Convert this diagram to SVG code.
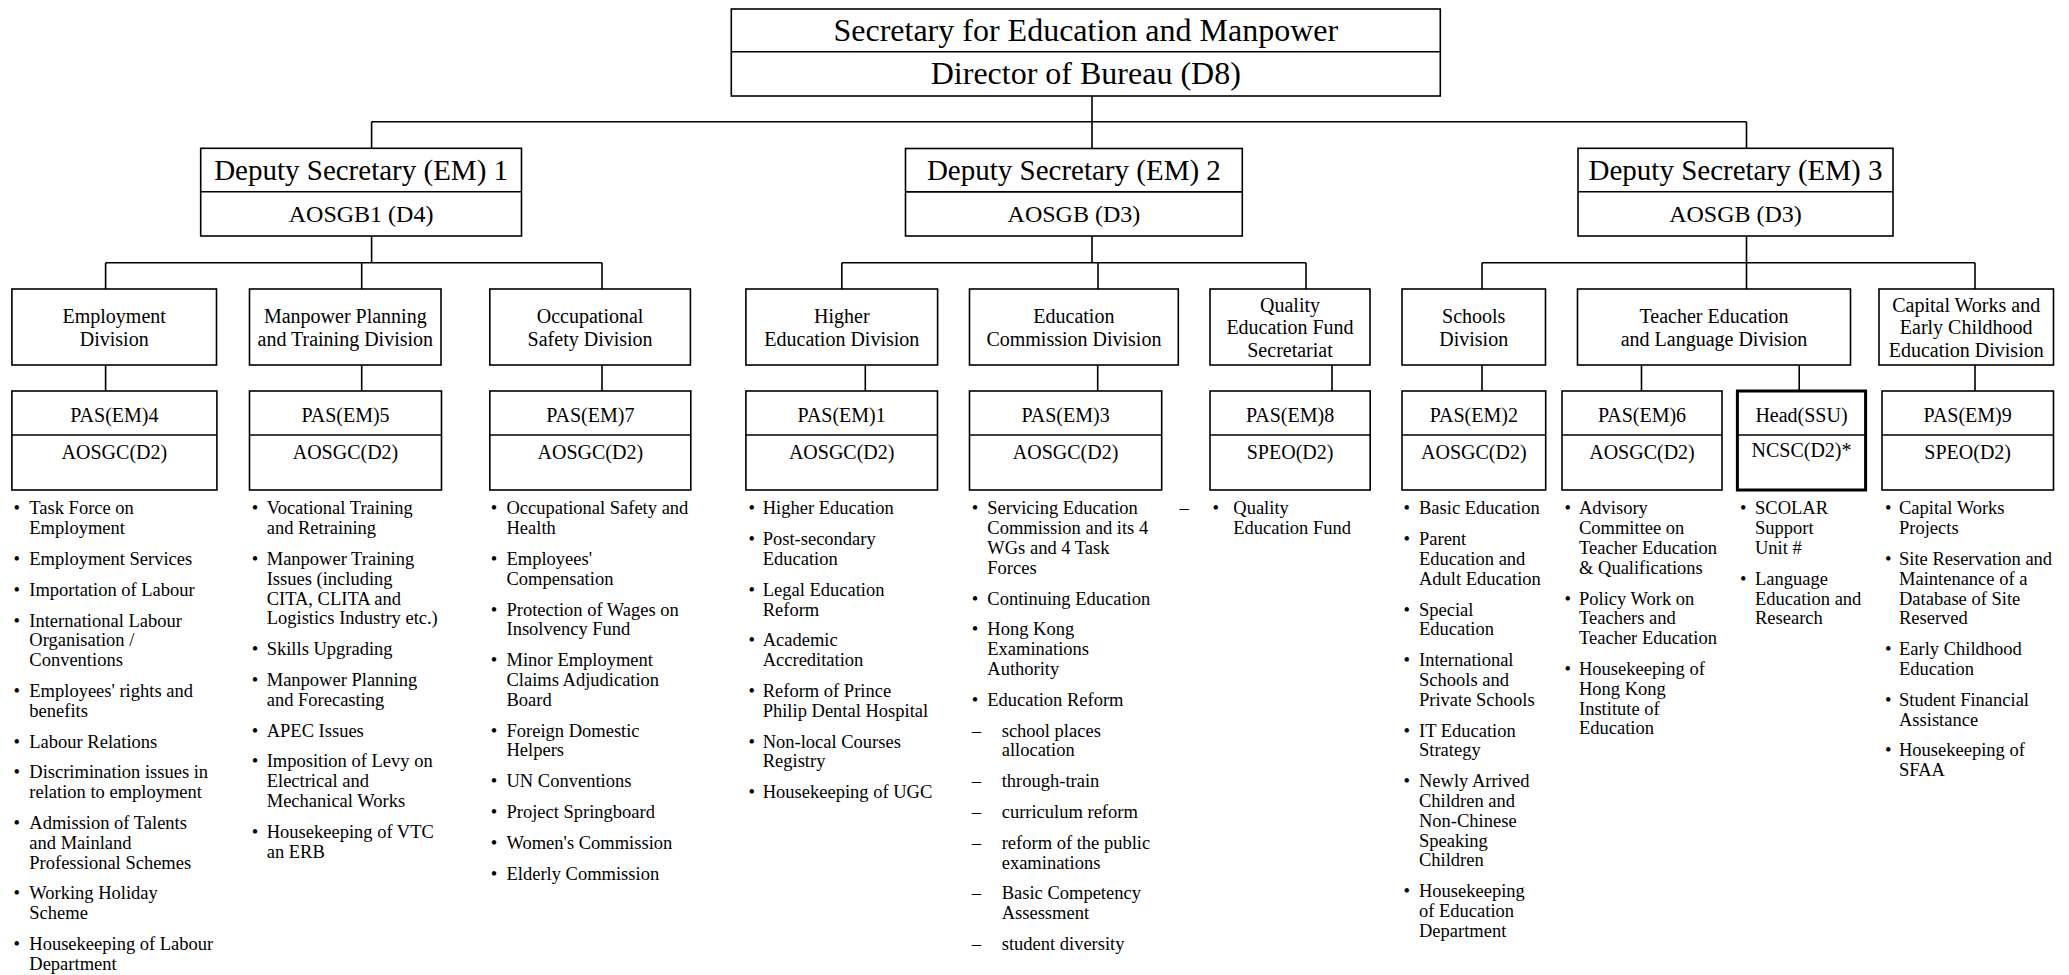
<svg xmlns="http://www.w3.org/2000/svg" width="2069" height="975" viewBox="0 0 2069 975">
<style>
.bx{fill:#fff;stroke:#000;stroke-width:1.6}
.tk{stroke-width:3}
.ln{fill:none;stroke:#000;stroke-width:1.6}
text{font-family:"Liberation Serif","Times New Roman",serif;fill:#000}
.c{text-anchor:middle}
.f32{font-size:32px}
.f29{font-size:29px}
.f24{font-size:24px}
.f20{font-size:20px}
.f18{font-size:18.5px}
.b{font-size:18.5px;text-anchor:middle}
</style>
<rect width="2069" height="975" fill="#fff"/>

<g id="connectors" class="ln">
<path d="M1092 96V121.7M371.6 121.7H1746.5M371.6 121.7V148.3M1092 121.7V148.5M1746.5 121.7V148.3"/>
<path d="M371.6 236V262.7M105.6 262.7H602M105.6 262.7V289M361.7 262.7V289M602 262.7V289"/>
<path d="M1092 236V262.7M841.8 262.7H1306M841.8 262.7V289M1098 262.7V289M1306 262.7V289"/>
<path d="M1746.5 236V262.7M1482 262.7H1975M1482 262.7V289M1746.5 262.7V289M1975 262.7V289"/>
<path d="M105.6 365V391M361.7 365V391M602 365V391M865.3 365V391M1097.7 365V391M1332 365V391M1482 365V391M1641.5 365V391M1799.2 365V391M1975 365V391"/>
</g>

<g id="secretary">
<rect class="bx" x="731.3" y="9" width="709" height="87"/>
<line class="ln" x1="731.3" y1="51.7" x2="1440.3" y2="51.7"/>
<text class="c f32" x="1085.8" y="40.5">Secretary for Education and Manpower</text>
<text class="c f32" x="1085.8" y="84">Director of Bureau (D8)</text>
</g>

<g id="ds1">
<rect class="bx" x="200.7" y="148.3" width="320.8" height="87.7"/>
<line class="ln" x1="200.7" y1="191.7" x2="521.5" y2="191.7"/>
<text class="c f29" x="361.1" y="180">Deputy Secretary (EM) 1</text>
<text class="c f24" x="361.1" y="221.7">AOSGB1 (D4)</text>
</g>
<g id="ds2">
<rect class="bx" x="905.5" y="148.5" width="336.8" height="87.5"/>
<line class="ln" x1="905.5" y1="191.9" x2="1242.3" y2="191.9"/>
<text class="c f29" x="1073.9" y="180">Deputy Secretary (EM) 2</text>
<text class="c f24" x="1073.9" y="221.7">AOSGB (D3)</text>
</g>
<g id="ds3">
<rect class="bx" x="1578" y="148.3" width="315" height="87.7"/>
<line class="ln" x1="1578" y1="191.7" x2="1893" y2="191.7"/>
<text class="c f29" x="1735.5" y="180">Deputy Secretary (EM) 3</text>
<text class="c f24" x="1735.5" y="221.7">AOSGB (D3)</text>
</g>

<g id="employment">
<rect class="bx" x="11.9" y="289" width="204.6" height="76"/>
<text class="c f20" x="114.2" y="323">Employment</text>
<text class="c f20" x="114.2" y="346">Division</text>
<rect class="bx" x="11.9" y="391" width="205" height="99"/>
<line class="ln" x1="11.9" y1="435" x2="216.9" y2="435"/>
<text class="c f20" x="114.4" y="421.5">PAS(EM)4</text>
<text class="c f20" x="114.4" y="459">AOSGC(D2)</text>
<text class="b" x="16.7" y="514.3">•</text><text class="f18" x="29.3" y="514.3">Task Force on</text><text class="f18" x="29.3" y="534.1">Employment</text>
<text class="b" x="16.7" y="564.9">•</text><text class="f18" x="29.3" y="564.9">Employment Services</text>
<text class="b" x="16.7" y="595.7">•</text><text class="f18" x="29.3" y="595.7">Importation of Labour</text>
<text class="b" x="16.7" y="626.5">•</text><text class="f18" x="29.3" y="626.5">International Labour</text><text class="f18" x="29.3" y="646.3">Organisation /</text><text class="f18" x="29.3" y="666.1">Conventions</text>
<text class="b" x="16.7" y="696.9">•</text><text class="f18" x="29.3" y="696.9">Employees' rights and</text><text class="f18" x="29.3" y="716.7">benefits</text>
<text class="b" x="16.7" y="747.5">•</text><text class="f18" x="29.3" y="747.5">Labour Relations</text>
<text class="b" x="16.7" y="778.3">•</text><text class="f18" x="29.3" y="778.3">Discrimination issues in</text><text class="f18" x="29.3" y="798.1">relation to employment</text>
<text class="b" x="16.7" y="828.9">•</text><text class="f18" x="29.3" y="828.9">Admission of Talents</text><text class="f18" x="29.3" y="848.7">and Mainland</text><text class="f18" x="29.3" y="868.5">Professional Schemes</text>
<text class="b" x="16.7" y="899.3">•</text><text class="f18" x="29.3" y="899.3">Working Holiday</text><text class="f18" x="29.3" y="919.1">Scheme</text>
<text class="b" x="16.7" y="949.9">•</text><text class="f18" x="29.3" y="949.9">Housekeeping of Labour</text><text class="f18" x="29.3" y="969.7">Department</text>
</g>

<g id="manpower">
<rect class="bx" x="249.5" y="289" width="191.5" height="76"/>
<text class="c f20" x="345.3" y="323">Manpower Planning</text>
<text class="c f20" x="345.3" y="346">and Training Division</text>
<rect class="bx" x="249.5" y="391" width="192" height="99"/>
<line class="ln" x1="249.5" y1="435" x2="441.5" y2="435"/>
<text class="c f20" x="345.5" y="421.5">PAS(EM)5</text>
<text class="c f20" x="345.5" y="459">AOSGC(D2)</text>
<text class="b" x="255" y="514.3">•</text><text class="f18" x="266.7" y="514.3">Vocational Training</text><text class="f18" x="266.7" y="534.1">and Retraining</text>
<text class="b" x="255" y="564.9">•</text><text class="f18" x="266.7" y="564.9">Manpower Training</text><text class="f18" x="266.7" y="584.7">Issues (including</text><text class="f18" x="266.7" y="604.5">CITA, CLITA and</text><text class="f18" x="266.7" y="624.3">Logistics Industry etc.)</text>
<text class="b" x="255" y="655.1">•</text><text class="f18" x="266.7" y="655.1">Skills Upgrading</text>
<text class="b" x="255" y="685.9">•</text><text class="f18" x="266.7" y="685.9">Manpower Planning</text><text class="f18" x="266.7" y="705.7">and Forecasting</text>
<text class="b" x="255" y="736.5">•</text><text class="f18" x="266.7" y="736.5">APEC Issues</text>
<text class="b" x="255" y="767.3">•</text><text class="f18" x="266.7" y="767.3">Imposition of Levy on</text><text class="f18" x="266.7" y="787.1">Electrical and</text><text class="f18" x="266.7" y="806.9">Mechanical Works</text>
<text class="b" x="255" y="837.7">•</text><text class="f18" x="266.7" y="837.7">Housekeeping of VTC</text><text class="f18" x="266.7" y="857.5">an ERB</text>
</g>

<g id="occupational">
<rect class="bx" x="489.8" y="289" width="200.6" height="76"/>
<text class="c f20" x="590.1" y="323">Occupational</text>
<text class="c f20" x="590.1" y="346">Safety Division</text>
<rect class="bx" x="489.8" y="391" width="201" height="99"/>
<line class="ln" x1="489.8" y1="435" x2="690.8" y2="435"/>
<text class="c f20" x="590.3" y="421.5">PAS(EM)7</text>
<text class="c f20" x="590.3" y="459">AOSGC(D2)</text>
<text class="b" x="494" y="514.3">•</text><text class="f18" x="506.5" y="514.3">Occupational Safety and</text><text class="f18" x="506.5" y="534.1">Health</text>
<text class="b" x="494" y="564.9">•</text><text class="f18" x="506.5" y="564.9">Employees'</text><text class="f18" x="506.5" y="584.7">Compensation</text>
<text class="b" x="494" y="615.5">•</text><text class="f18" x="506.5" y="615.5">Protection of Wages on</text><text class="f18" x="506.5" y="635.3">Insolvency Fund</text>
<text class="b" x="494" y="666.1">•</text><text class="f18" x="506.5" y="666.1">Minor Employment</text><text class="f18" x="506.5" y="685.9">Claims Adjudication</text><text class="f18" x="506.5" y="705.7">Board</text>
<text class="b" x="494" y="736.5">•</text><text class="f18" x="506.5" y="736.5">Foreign Domestic</text><text class="f18" x="506.5" y="756.3">Helpers</text>
<text class="b" x="494" y="787.1">•</text><text class="f18" x="506.5" y="787.1">UN Conventions</text>
<text class="b" x="494" y="817.9">•</text><text class="f18" x="506.5" y="817.9">Project Springboard</text>
<text class="b" x="494" y="848.7">•</text><text class="f18" x="506.5" y="848.7">Women's Commission</text>
<text class="b" x="494" y="879.5">•</text><text class="f18" x="506.5" y="879.5">Elderly Commission</text>
</g>

<g id="higher">
<rect class="bx" x="745.9" y="289" width="191.7" height="76"/>
<text class="c f20" x="841.8" y="323">Higher</text>
<text class="c f20" x="841.8" y="346">Education Division</text>
<rect class="bx" x="745.9" y="391" width="191.6" height="99"/>
<line class="ln" x1="745.9" y1="435" x2="937.5" y2="435"/>
<text class="c f20" x="841.7" y="421.5">PAS(EM)1</text>
<text class="c f20" x="841.7" y="459">AOSGC(D2)</text>
<text class="b" x="751.7" y="514.3">•</text><text class="f18" x="762.7" y="514.3">Higher Education</text>
<text class="b" x="751.7" y="545.1">•</text><text class="f18" x="762.7" y="545.1">Post-secondary</text><text class="f18" x="762.7" y="564.9">Education</text>
<text class="b" x="751.7" y="595.7">•</text><text class="f18" x="762.7" y="595.7">Legal Education</text><text class="f18" x="762.7" y="615.5">Reform</text>
<text class="b" x="751.7" y="646.3">•</text><text class="f18" x="762.7" y="646.3">Academic</text><text class="f18" x="762.7" y="666.1">Accreditation</text>
<text class="b" x="751.7" y="696.9">•</text><text class="f18" x="762.7" y="696.9">Reform of Prince</text><text class="f18" x="762.7" y="716.7">Philip Dental Hospital</text>
<text class="b" x="751.7" y="747.5">•</text><text class="f18" x="762.7" y="747.5">Non-local Courses</text><text class="f18" x="762.7" y="767.3">Registry</text>
<text class="b" x="751.7" y="798.1">•</text><text class="f18" x="762.7" y="798.1">Housekeeping of UGC</text>
</g>

<g id="educommission">
<rect class="bx" x="969.5" y="289" width="208.8" height="76"/>
<text class="c f20" x="1073.9" y="323">Education</text>
<text class="c f20" x="1073.9" y="346">Commission Division</text>
<rect class="bx" x="969.5" y="391" width="192.2" height="99"/>
<line class="ln" x1="969.5" y1="435" x2="1161.7" y2="435"/>
<text class="c f20" x="1065.6" y="421.5">PAS(EM)3</text>
<text class="c f20" x="1065.6" y="459">AOSGC(D2)</text>
<text class="b" x="975" y="514.3">•</text><text class="f18" x="987.3" y="514.3">Servicing Education</text><text class="f18" x="987.3" y="534.1">Commission and its 4</text><text class="f18" x="987.3" y="553.9">WGs and 4 Task</text><text class="f18" x="987.3" y="573.7">Forces</text>
<text class="b" x="975" y="604.5">•</text><text class="f18" x="987.3" y="604.5">Continuing Education</text>
<text class="b" x="975" y="635.3">•</text><text class="f18" x="987.3" y="635.3">Hong Kong</text><text class="f18" x="987.3" y="655.1">Examinations</text><text class="f18" x="987.3" y="674.9">Authority</text>
<text class="b" x="975" y="705.7">•</text><text class="f18" x="987.3" y="705.7">Education Reform</text>
<text class="f18" x="971.7" y="736.5">–</text><text class="f18" x="1001.7" y="736.5">school places</text><text class="f18" x="1001.7" y="756.3">allocation</text>
<text class="f18" x="971.7" y="787.1">–</text><text class="f18" x="1001.7" y="787.1">through-train</text>
<text class="f18" x="971.7" y="817.9">–</text><text class="f18" x="1001.7" y="817.9">curriculum reform</text>
<text class="f18" x="971.7" y="848.7">–</text><text class="f18" x="1001.7" y="848.7">reform of the public</text><text class="f18" x="1001.7" y="868.5">examinations</text>
<text class="f18" x="971.7" y="899.3">–</text><text class="f18" x="1001.7" y="899.3">Basic Competency</text><text class="f18" x="1001.7" y="919.1">Assessment</text>
<text class="f18" x="971.7" y="949.9">–</text><text class="f18" x="1001.7" y="949.9">student diversity</text>
</g>

<g id="quality">
<rect class="bx" x="1210" y="289" width="160" height="76"/>
<text class="c f20" x="1290" y="311.5">Quality</text>
<text class="c f20" x="1290" y="334">Education Fund</text>
<text class="c f20" x="1290" y="356.5">Secretariat</text>
<rect class="bx" x="1210" y="391" width="160.2" height="99"/>
<line class="ln" x1="1210" y1="435" x2="1370.2" y2="435"/>
<text class="c f20" x="1290.1" y="421.5">PAS(EM)8</text>
<text class="c f20" x="1290.1" y="459">SPEO(D2)</text>
<text class="f18" x="1179.5" y="514.3">–</text>
<text class="b" x="1215.7" y="514.3">•</text><text class="f18" x="1233.3" y="514.3">Quality</text><text class="f18" x="1233.3" y="534.1">Education Fund</text>
</g>

<g id="schools">
<rect class="bx" x="1402" y="289" width="143.5" height="76"/>
<text class="c f20" x="1473.7" y="323">Schools</text>
<text class="c f20" x="1473.7" y="346">Division</text>
<rect class="bx" x="1402" y="391" width="143.7" height="99"/>
<line class="ln" x1="1402" y1="435" x2="1545.7" y2="435"/>
<text class="c f20" x="1473.8" y="421.5">PAS(EM)2</text>
<text class="c f20" x="1473.8" y="459">AOSGC(D2)</text>
<text class="b" x="1406.7" y="514.3">•</text><text class="f18" x="1419" y="514.3">Basic Education</text>
<text class="b" x="1406.7" y="545.1">•</text><text class="f18" x="1419" y="545.1">Parent</text><text class="f18" x="1419" y="564.9">Education and</text><text class="f18" x="1419" y="584.7">Adult Education</text>
<text class="b" x="1406.7" y="615.5">•</text><text class="f18" x="1419" y="615.5">Special</text><text class="f18" x="1419" y="635.3">Education</text>
<text class="b" x="1406.7" y="666.1">•</text><text class="f18" x="1419" y="666.1">International</text><text class="f18" x="1419" y="685.9">Schools and</text><text class="f18" x="1419" y="705.7">Private Schools</text>
<text class="b" x="1406.7" y="736.5">•</text><text class="f18" x="1419" y="736.5">IT Education</text><text class="f18" x="1419" y="756.3">Strategy</text>
<text class="b" x="1406.7" y="787.1">•</text><text class="f18" x="1419" y="787.1">Newly Arrived</text><text class="f18" x="1419" y="806.9">Children and</text><text class="f18" x="1419" y="826.7">Non-Chinese</text><text class="f18" x="1419" y="846.5">Speaking</text><text class="f18" x="1419" y="866.3">Children</text>
<text class="b" x="1406.7" y="897.1">•</text><text class="f18" x="1419" y="897.1">Housekeeping</text><text class="f18" x="1419" y="916.9">of Education</text><text class="f18" x="1419" y="936.7">Department</text>
</g>

<g id="teacher">
<rect class="bx" x="1577.5" y="289" width="273" height="76"/>
<text class="c f20" x="1714" y="323">Teacher Education</text>
<text class="c f20" x="1714" y="346">and Language Division</text>
</g>

<g id="pas6">
<rect class="bx" x="1562" y="391" width="160" height="99"/>
<line class="ln" x1="1562" y1="435" x2="1722" y2="435"/>
<text class="c f20" x="1642" y="421.5">PAS(EM)6</text>
<text class="c f20" x="1642" y="459">AOSGC(D2)</text>
<text class="b" x="1567.7" y="514.3">•</text><text class="f18" x="1579" y="514.3">Advisory</text><text class="f18" x="1579" y="534.1">Committee on</text><text class="f18" x="1579" y="553.9">Teacher Education</text><text class="f18" x="1579" y="573.7">&amp; Qualifications</text>
<text class="b" x="1567.7" y="604.5">•</text><text class="f18" x="1579" y="604.5">Policy Work on</text><text class="f18" x="1579" y="624.3">Teachers and</text><text class="f18" x="1579" y="644.1">Teacher Education</text>
<text class="b" x="1567.7" y="674.9">•</text><text class="f18" x="1579" y="674.9">Housekeeping of</text><text class="f18" x="1579" y="694.7">Hong Kong</text><text class="f18" x="1579" y="714.5">Institute of</text><text class="f18" x="1579" y="734.3">Education</text>
</g>

<g id="ssu">
<rect class="bx tk" x="1737.4" y="391" width="128.2" height="99"/>
<line class="ln tk" x1="1737.4" y1="435" x2="1865.6" y2="435"/>
<text class="c f20" x="1801.5" y="421.5">Head(SSU)</text>
<text class="c f20" x="1801.5" y="457">NCSC(D2)*</text>
<text class="b" x="1743.3" y="514.3">•</text><text class="f18" x="1755" y="514.3">SCOLAR</text><text class="f18" x="1755" y="534.1">Support</text><text class="f18" x="1755" y="553.9">Unit #</text>
<text class="b" x="1743.3" y="584.7">•</text><text class="f18" x="1755" y="584.7">Language</text><text class="f18" x="1755" y="604.5">Education and</text><text class="f18" x="1755" y="624.3">Research</text>
</g>

<g id="capital">
<rect class="bx" x="1879" y="289" width="174.5" height="76"/>
<text class="c f20" x="1966.2" y="311.5">Capital Works and</text>
<text class="c f20" x="1966.2" y="334">Early Childhood</text>
<text class="c f20" x="1966.2" y="356.5">Education Division</text>
<rect class="bx" x="1882" y="391" width="171.5" height="99"/>
<line class="ln" x1="1882" y1="435" x2="2053.5" y2="435"/>
<text class="c f20" x="1967.7" y="421.5">PAS(EM)9</text>
<text class="c f20" x="1967.7" y="459">SPEO(D2)</text>
<text class="b" x="1888.3" y="514.3">•</text><text class="f18" x="1899" y="514.3">Capital Works</text><text class="f18" x="1899" y="534.1">Projects</text>
<text class="b" x="1888.3" y="564.9">•</text><text class="f18" x="1899" y="564.9">Site Reservation and</text><text class="f18" x="1899" y="584.7">Maintenance of a</text><text class="f18" x="1899" y="604.5">Database of Site</text><text class="f18" x="1899" y="624.3">Reserved</text>
<text class="b" x="1888.3" y="655.1">•</text><text class="f18" x="1899" y="655.1">Early Childhood</text><text class="f18" x="1899" y="674.9">Education</text>
<text class="b" x="1888.3" y="705.7">•</text><text class="f18" x="1899" y="705.7">Student Financial</text><text class="f18" x="1899" y="725.5">Assistance</text>
<text class="b" x="1888.3" y="756.3">•</text><text class="f18" x="1899" y="756.3">Housekeeping of</text><text class="f18" x="1899" y="776.1">SFAA</text>
</g>
</svg>
